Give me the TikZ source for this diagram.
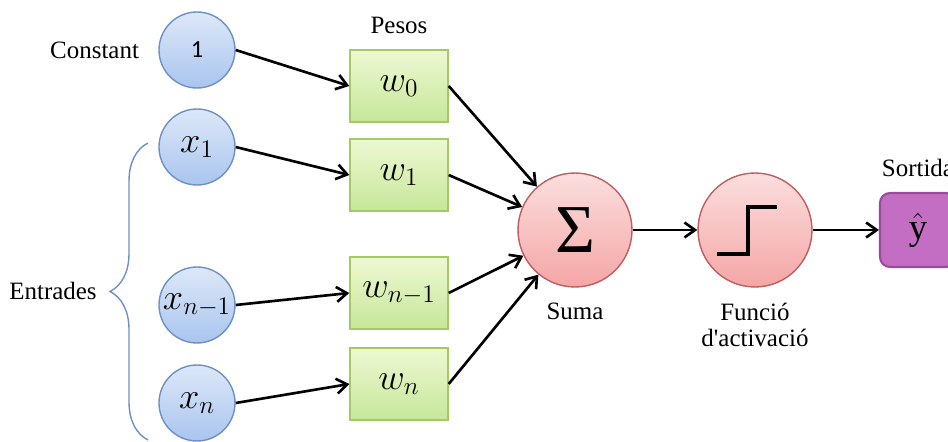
\documentclass[tikz,border=0pt]{standalone}
\usepackage{fontspec}
\setmainfont{Liberation Serif}
\newfontfamily\onefont{Carlito}
\usetikzlibrary{positioning,arrows.meta,shadows,decorations.pathreplacing}

\definecolor{lightblue}{HTML}{DDE8F8}
\definecolor{midblue}{HTML}{A9C5EF}
\definecolor{edgeblue}{HTML}{6E90C6}
\definecolor{lightgreen}{HTML}{EEF8D2}
\definecolor{midgreen}{HTML}{C6E79A}
\definecolor{edgegreen}{HTML}{A5C963}
\definecolor{lightred}{HTML}{FCDEDE}
\definecolor{midred}{HTML}{F4A6A6}
\definecolor{edgered}{HTML}{BE5E5E}
\definecolor{purplefill}{HTML}{C36EC3}
\definecolor{purpleedge}{HTML}{9A4A9E}

\begin{document}
\begin{tikzpicture}[x=0.02cm,y=-0.02cm,
	incircle/.style={circle,draw=edgeblue,line width=0.8pt,top color=lightblue,bottom color=midblue,
		minimum size=1.52cm,inner sep=0pt,font=\fontsize{21}{23}\selectfont},
	wbox/.style={rectangle,draw=edgegreen,line width=0.8pt,top color=lightgreen,bottom color=midgreen,
		minimum width=1.96cm,minimum height=1.44cm,inner sep=0pt,font=\fontsize{22}{24}\selectfont,
		drop shadow={opacity=0.25,shadow xshift=0.6pt,shadow yshift=-0.8pt}},
	unit/.style={circle,draw=edgered,line width=0.8pt,top color=lightred,bottom color=midred,
		minimum size=2.28cm,inner sep=0pt},
	outbox/.style={rectangle,rounded corners=0.2cm,draw=purpleedge,line width=1.2pt,fill=purplefill,
		minimum width=1.52cm,minimum height=1.48cm,inner sep=0pt,font=\fontsize{21}{23}\selectfont},
	lbl/.style={inner sep=0pt,font=\fontsize{14.2}{14.6}\selectfont},
	arr/.style={line width=1.5pt,-{Straight Barb[length=6pt,width=8.5pt]}}]

\def\BRACECOLOR{edgeblue}
	\useasboundingbox (0,0) rectangle (948,442);
	\clip (0,0) rectangle (948,442);

	% inputs
	\node[incircle] (one) at (197,50) {\onefont\fontsize{14}{15}\selectfont 1};
	\node[incircle] (xone) at (197,147) {$x_1$};
	\node[incircle] (xprev) at (197,305) {$x_{n-1}$};
	\node[incircle] (xlast) at (197,403) {$x_n$};

	% weights
	\node[wbox] (wzero) at (399,86) {$w_0$};
	\node[wbox] (wone) at (399,175) {$w_1$};
	\node[wbox] (wprev) at (399,293) {$w_{n-1}$};
	\node[wbox] (wlast) at (399,384) {$w_n$};

	% sum, activation, output
	\node[unit,font=\fontsize{39}{40}\selectfont] (sum) at (575,230) {Σ};
	\node[unit] (act) at (755,230) {};
	\node[outbox] (out) at (918,230) {$\hat{\mathrm{y}}$};

	% labels
	\node[lbl,left=0.38cm of one] (constant) {Constant};
	\node[lbl,above=0.3cm of wzero] (weights) {Pesos};
	\node[lbl,below=0.3cm of sum] (sumlabel) {Suma};
	\node[lbl,below=0.3cm of act,align=center] (actlabel) {Funció\\d\textquotesingle activació};
	\node[lbl,above=0.3cm of out] (outlabel) {Sortida};

	\coordinate (tip) at (110,291);
	\node[lbl,left=0.26cm of tip] (inputs) {Entrades};
	\draw[\BRACECOLOR,line width=0.8pt,decorate,decoration={brace,amplitude=0.76cm}] (148,440) -- (148,143);

	% step function
	\draw[line width=2.6pt] ([shift={(-38,24)}]act.center) -- ++(31,0) -- ++(0,-47) -- ++(29,0);

	\draw[arr] (one.east) -- (wzero.west);
	\draw[arr] (xone.east) -- (wone.west);
	\draw[arr] (xprev.east) -- (wprev.west);
	\draw[arr] (xlast.east) -- (wlast.west);

	\draw[arr] (wzero.east) -- (sum);
	\draw[arr] (wone.east) -- (sum);
	\draw[arr] (wprev.east) -- (sum);
	\draw[arr] (wlast.east) -- (sum);

	\draw[arr] (sum) -- (act);
	\draw[arr] (act) -- (out);

\end{tikzpicture}
\end{document}
